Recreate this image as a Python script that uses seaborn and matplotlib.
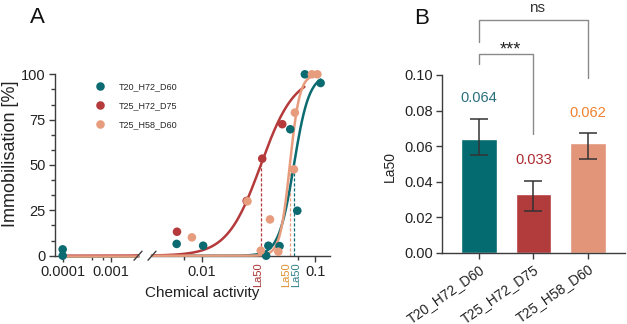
import numpy as np
import pandas as pd
import matplotlib
matplotlib.use("Agg")
import matplotlib.pyplot as plt
import seaborn as sns
from matplotlib.ticker import FixedLocator, FixedFormatter, MultipleLocator, NullFormatter

# ---------------- data ----------------
conditions = ["T20_H72_D60", "T25_H72_D75", "T25_H58_D60"]
point_colors = ["#0b6b70", "#b53a3c", "#e89c7e"]
bar_colors = ["#046b70", "#b23b3c", "#e3957a"]
text_colors = ["#2b6f7d", "#ad2a2e", "#f0812e"]
la50_label_colors = ["#2f7f8a", "#a83232", "#e0902f"]

teal_x = [0.0001, 0.0001, 0.0060, 0.01026, 0.0368, 0.0385, 0.0483, 0.0600, 0.0692, 0.0807, 0.111]
teal_y = [3.5, 0.0, 6.5, 5.5, 0.0, 5.5, 5.3, 69.7, 24.8, 100.0, 95.2]
red_x = [0.00604, 0.0248, 0.0340, 0.0510]
red_y = [13.2, 30.2, 53.5, 72.5]
salmon_x = [0.00817, 0.0252, 0.0330, 0.0398, 0.0471, 0.0646, 0.0659, 0.093, 0.104]
salmon_y = [10.1, 30.0, 2.8, 20.0, 2.2, 47.6, 78.9, 100.0, 100.0]

# fitted dose-response parameters
la50_fit = [0.0646, 0.033, 0.0595]
hill_slope = [6.5, 2.94, 10.0]
curve_start = [0.0001, 0.0001, 0.0001]
curve_end = [0.111, 0.080, 0.090]

# panel B
la50_mean = [0.064, 0.033, 0.062]
la50_low = [0.0552, 0.0234, 0.0530]
la50_high = [0.0755, 0.0406, 0.0672]

xticks_left = [0.0001, 0.001]
xticklabels_left = ["0.0001", "0.001"]
xticks_right = [0.01, 0.1]
xticklabels_right = ["0.01", "0.1"]

# ---------------- style ----------------
sns.set_style("ticks")
plt.rcParams["font.family"] = ["Liberation Sans", "DejaVu Sans"]
AX_COL = "#3c3c3c"
plt.rcParams.update({
    "axes.edgecolor": AX_COL, "axes.linewidth": 1.0,
    "xtick.color": AX_COL, "ytick.color": AX_COL,
    "xtick.labelcolor": "#222222", "ytick.labelcolor": "#222222",
    "xtick.labelsize": 10.5, "ytick.labelsize": 10.5,
    "xtick.major.size": 4.5, "ytick.major.size": 4.5,
    "xtick.minor.size": 3, "ytick.minor.size": 3,
    "xtick.major.width": 1.0, "ytick.major.width": 1.0,
    "xtick.minor.width": 1.0, "ytick.minor.width": 1.0,
})

W, H = 627, 324
fig = plt.figure(figsize=(W / 100, H / 100), dpi=100)

def fx(p):
    return p / W

def fy(p):
    return 1 - p / H

y0, y100 = 255.7, 74.3
ax1 = fig.add_axes([fx(55), fy(y0), fx(138 - 55), (y0 - y100) / H])
ax2 = fig.add_axes([fx(152), fy(y0), fx(330 - 152), (y0 - y100) / H])
ax3 = fig.add_axes([fx(441.7), fy(253), fx(625 - 441.7), 178 / H])

xlim1 = (10 ** -4.16, 10 ** -2.431)
xlim2 = (10 ** -2.439, 10 ** -0.872)

pts = pd.DataFrame({
    "activity": teal_x + red_x + salmon_x,
    "immob": teal_y + red_y + salmon_y,
    "condition": [conditions[0]] * len(teal_x) + [conditions[1]] * len(red_x) + [conditions[2]] * len(salmon_x),
})
palette = dict(zip(conditions, point_colors))

for ax, xl in [(ax1, xlim1), (ax2, xlim2)]:
    ax.set_xscale("log")
    ax.set_xlim(*xl)
    ax.set_ylim(0, 100)
    rows = []
    for c, l50, h, cs, ce in zip(conditions, la50_fit, hill_slope, curve_start, curve_end):
        lo = max(cs, xl[0])
        hi = min(ce, xl[1])
        if hi <= lo:
            continue
        xs = np.logspace(np.log10(lo), np.log10(hi), 200)
        ys = 100.0 / (1.0 + (l50 / xs) ** h)
        rows.append(pd.DataFrame({"activity": xs, "immob": ys, "condition": c}))
    cur = pd.concat(rows)
    n_before = len(ax.lines)
    sns.lineplot(data=cur, x="activity", y="immob", hue="condition", hue_order=conditions,
                 palette=palette, linewidth=1.8, legend=False, ax=ax, sort=False,
                 estimator=None)
    for ln in ax.lines[n_before:]:
        ln.set_clip_on(False)
        ln.set_zorder(3)
    sub = pts[(pts.activity >= xl[0]) & (pts.activity <= xl[1])]
    sns.scatterplot(data=sub, x="activity", y="immob", hue="condition", hue_order=conditions,
                    palette=palette, s=38, edgecolor="none", linewidth=0, ax=ax,
                    clip_on=False, zorder=4, legend=(ax is ax2))
    ax.set_xlabel("")
    ax.set_ylabel("")
    sns.despine(ax=ax)

# la50 dashed lines
for c, l50, col in zip(conditions, la50_fit, point_colors):
    ax2.plot([l50, l50], [0, 50], ls=(0, (2.5, 1.5)), lw=0.9, color=col, zorder=2)
la50_text_factor = [1.04, 0.955, 0.935]
for l50, f, col in zip(la50_fit, la50_text_factor, la50_label_colors):
    ax2.text(l50 * f, -0.035, "La50", rotation=90, ha="center", va="top", color=col,
             fontsize=8, transform=ax2.get_xaxis_transform())

# axis 1 ticks
ax1.yaxis.set_minor_locator(MultipleLocator(25 / 3))
ax1.set_yticks([0, 25, 50, 75, 100])
ax1.set_yticklabels(["0", "25", "50", "75", "100"])
ax1.xaxis.set_major_locator(FixedLocator(xticks_left))
ax1.xaxis.set_major_formatter(FixedFormatter(xticklabels_left))
ax1.xaxis.set_minor_locator(FixedLocator([0.0004, 0.0007]))
ax1.xaxis.set_minor_formatter(NullFormatter())
ax1.tick_params(axis="both", pad=2)

ax2.xaxis.set_major_locator(FixedLocator(xticks_right))
ax2.xaxis.set_major_formatter(FixedFormatter(xticklabels_right))
ax2.xaxis.set_minor_locator(FixedLocator([0.007, 0.07]))
ax2.xaxis.set_minor_formatter(NullFormatter())
ax2.spines["left"].set_visible(False)
ax2.tick_params(axis="y", left=False, labelleft=False, which="both")
ax2.tick_params(axis="x", pad=2)

# break marks
def slash(ax, xa):
    tr = ax.transAxes
    bb = ax.get_window_extent()
    dx = 4.0 / bb.width
    dy = 4.5 / bb.height
    ax.plot([xa - dx, xa + dx], [-dy, dy], color=AX_COL, lw=1.0, transform=tr, clip_on=False,
            zorder=5)

slash(ax1, 1.0)
slash(ax2, 0.0)

# legend
sns.move_legend(ax2, "upper left", bbox_to_anchor=(fx(93), fy(82)),
                bbox_transform=fig.transFigure, frameon=False, title=None,
                fontsize=6.5, handletextpad=1.4, labelspacing=1.12, handlelength=1.5,
                borderaxespad=0, borderpad=0)

fig.text(fx(201.7), fy(293.5), "Chemical activity", ha="center", va="center", fontsize=11, color="#222222")
fig.text(fx(10.5), fy(153.5), "Immobilisation [%]", ha="center", va="center", rotation=90,
         fontsize=13, color="#222222")
fig.text(fx(37), fy(17.5), "A", ha="center", va="center", fontsize=16, color="#111111")
fig.text(fx(422), fy(18), "B", ha="center", va="center", fontsize=16, color="#111111")

# ---------------- panel B ----------------
sns.barplot(x=conditions, y=la50_mean, hue=conditions, palette=bar_colors, width=0.66,
            errorbar=None, saturation=1, legend=False, ax=ax3)
means = np.array(la50_mean)
ax3.errorbar(np.arange(3), means, yerr=[means - np.array(la50_low), np.array(la50_high) - means],
             fmt="none", ecolor="#333333", elinewidth=1.1, capsize=6.5, capthick=1.1, zorder=4)
for i, (m, hi, col) in enumerate(zip(la50_mean, la50_high, text_colors)):
    ax3.text(i, hi + 0.0115, f"{m:.3f}", ha="center", va="center", color=col, fontsize=10.5)

ax3.set_xlim(-0.685, 2.68)
ax3.set_ylim(0, 0.10)
ax3.set_yticks([0.0, 0.02, 0.04, 0.06, 0.08, 0.10])
ax3.set_yticklabels(["0.00", "0.02", "0.04", "0.06", "0.08", "0.10"])
ax3.set_xticks([0, 1, 2])
ax3.set_xticklabels(conditions, rotation=35, ha="right", rotation_mode="anchor", fontsize=10)
ax3.tick_params(axis="x", pad=2)
ax3.tick_params(axis="y", pad=2)
ax3.set_ylabel("")
fig.text(fx(390), fy(166.7), "La50", rotation=90, ha="center", va="center", fontsize=10, color="#222222")
sns.despine(ax=ax3)

BR = "#8a8a8a"
ax3.plot([0, 0, 1, 1], [0.1059, 0.112, 0.112, 0.0668], color=BR, lw=1.0, clip_on=False)
ax3.plot([0, 0, 2, 2], [0.1185, 0.1308, 0.1308, 0.0982], color=BR, lw=1.0, clip_on=False)
ax3.text(0.58, 0.1118, "***", ha="center", va="baseline", fontsize=13, color="#222222")
ax3.text(1.06, 0.1352, "ns", ha="center", va="baseline", fontsize=11, color="#333333")

fig.savefig("out.png", dpi=100)
